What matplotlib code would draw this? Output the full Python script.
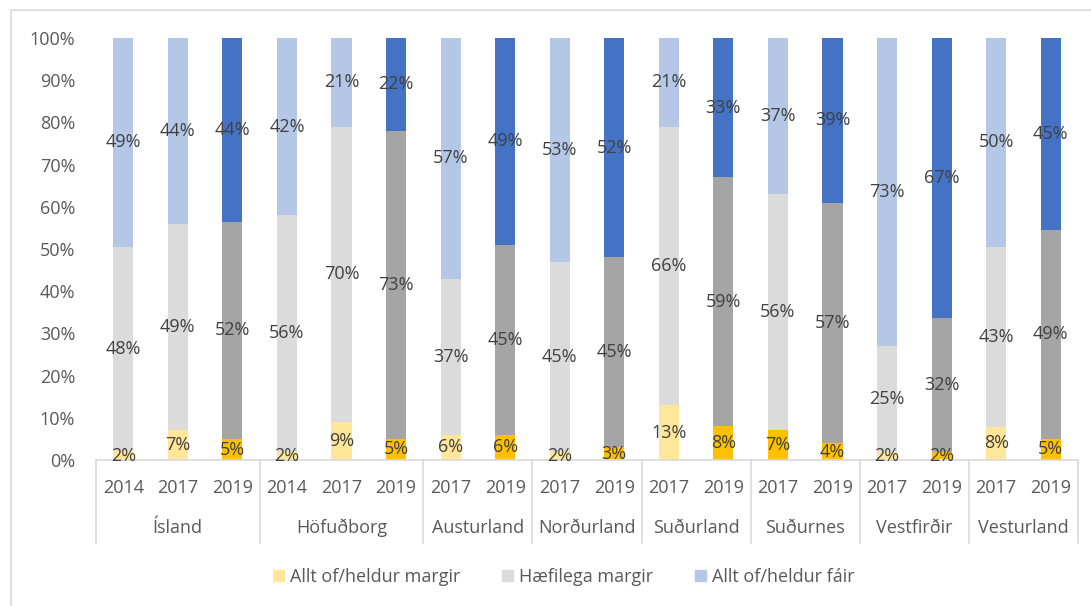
import matplotlib.pyplot as plt
import matplotlib.patches as mpatches
from matplotlib.lines import Line2D
import numpy as np

# Data
groups = ["Ísland", "Höfuðborg", "Austurland", "Norðurland", "Suðurland",
          "Suðurnes", "Vestfirðir", "Vesturland"]
group_years = [["2014", "2017", "2019"], ["2014", "2017", "2019"],
               ["2017", "2019"], ["2017", "2019"], ["2017", "2019"],
               ["2017", "2019"], ["2017", "2019"], ["2017", "2019"]]
series_names = ["Allt of/heldur margir", "Hæfilega margir", "Allt of/heldur fáir"]
too_many = [2, 7, 5, 2, 9, 5, 6, 6, 2, 3, 13, 8, 7, 4, 2, 2, 8, 5]
suitable = [48, 49, 52, 56, 70, 73, 37, 45, 45, 45, 66, 59, 56, 57, 25, 32, 43, 49]
too_few = [49, 44, 44, 42, 21, 22, 57, 49, 53, 52, 21, 33, 37, 39, 73, 67, 50, 45]
# bottom segment colour is the darker shade for these bars
bottom_dark = [0, 0, 1, 0, 0, 1, 0, 1, 0, 1, 0, 1, 1, 1, 0, 1, 0, 1]

light = ["#FFE699", "#DBDBDB", "#B4C7E7"]
dark = ["#FFC000", "#A5A5A5", "#4472C4"]

years = [y for g in group_years for y in g]
vals = np.array([too_many, suitable, too_few], dtype=float)
shares = vals / vals.sum(axis=0)
n = len(years)
x = np.arange(n)

W, H = 1091, 606
FS = 13
fig = plt.figure(figsize=(W / 100, H / 100), dpi=100)
plt.rcParams['font.family'] = ['Open Sans', 'DejaVu Sans']

# chart outer border
fig.add_artist(mpatches.Rectangle((11 / W, -0.1), 1.2, (H - 10) / H + 0.1,
                                  transform=fig.transFigure, fill=False,
                                  edgecolor="#D9D9D9", linewidth=1.2))

left, right, top, bottom = 96, 1078, 38, 460
ax = fig.add_axes([left / W, (H - bottom) / H, (right - left) / W, (bottom - top) / H])

bottoms = np.zeros(n)
for s in range(3):
    cols = []
    for i in range(n):
        if s == 0:
            is_dark = bottom_dark[i] == 1
        else:
            is_dark = years[i] == "2019"
        cols.append(dark[s] if is_dark else light[s])
    ax.bar(x, shares[s], 0.37, bottom=bottoms, color=cols, linewidth=0)
    for i in range(n):
        ax.text(x[i], bottoms[i] + shares[s][i] / 2, f"{int(vals[s][i])}%",
                ha="center", va="center", fontsize=FS, color="#404040")
    bottoms += shares[s]

ax.set_xlim(-0.5, n - 0.5)
ax.set_ylim(0, 1)
ax.set_yticks(np.arange(0, 1.01, 0.1))
ax.set_yticklabels([f"{int(round(v * 100))}%" for v in np.arange(0, 1.01, 0.1)])
ax.tick_params(axis="y", length=0, pad=15, labelsize=FS, labelcolor="#595959")
ax.set_xticks([])
for sp in ["top", "right", "left"]:
    ax.spines[sp].set_visible(False)
ax.spines["bottom"].set_color("#D9D9D9")
ax.spines["bottom"].set_linewidth(1.2)

# two-level category axis
year_y = (H - 488) / H
group_y = (H - 528) / H
step = (right - left) / n
pos = 0
bounds = [0]
for g, ys in zip(groups, group_years):
    for k, y in enumerate(ys):
        cx = (left + step * (pos + k + 0.5)) / W
        fig.text(cx, year_y, y, ha="center", va="center", fontsize=FS, color="#595959")
    gx = (left + step * (pos + len(ys) / 2)) / W
    fig.text(gx, group_y, g, ha="center", va="center", fontsize=FS, color="#595959")
    pos += len(ys)
    bounds.append(pos)
for b in bounds:
    bx = (left + step * b) / W
    fig.add_artist(Line2D([bx, bx], [(H - 543) / H, (H - bottom) / H],
                          transform=fig.transFigure, color="#D9D9D9", linewidth=1.2))

handles = [mpatches.Patch(color=c) for c in light]
fig.legend(handles, series_names, loc="center", bbox_to_anchor=(564 / W, (H - 577) / H),
           ncol=3, frameon=False, fontsize=FS, handlelength=0.6, handleheight=0.6,
           handletextpad=0.35, columnspacing=2.3, labelcolor="#595959")

fig.savefig("out.png", dpi=100)
